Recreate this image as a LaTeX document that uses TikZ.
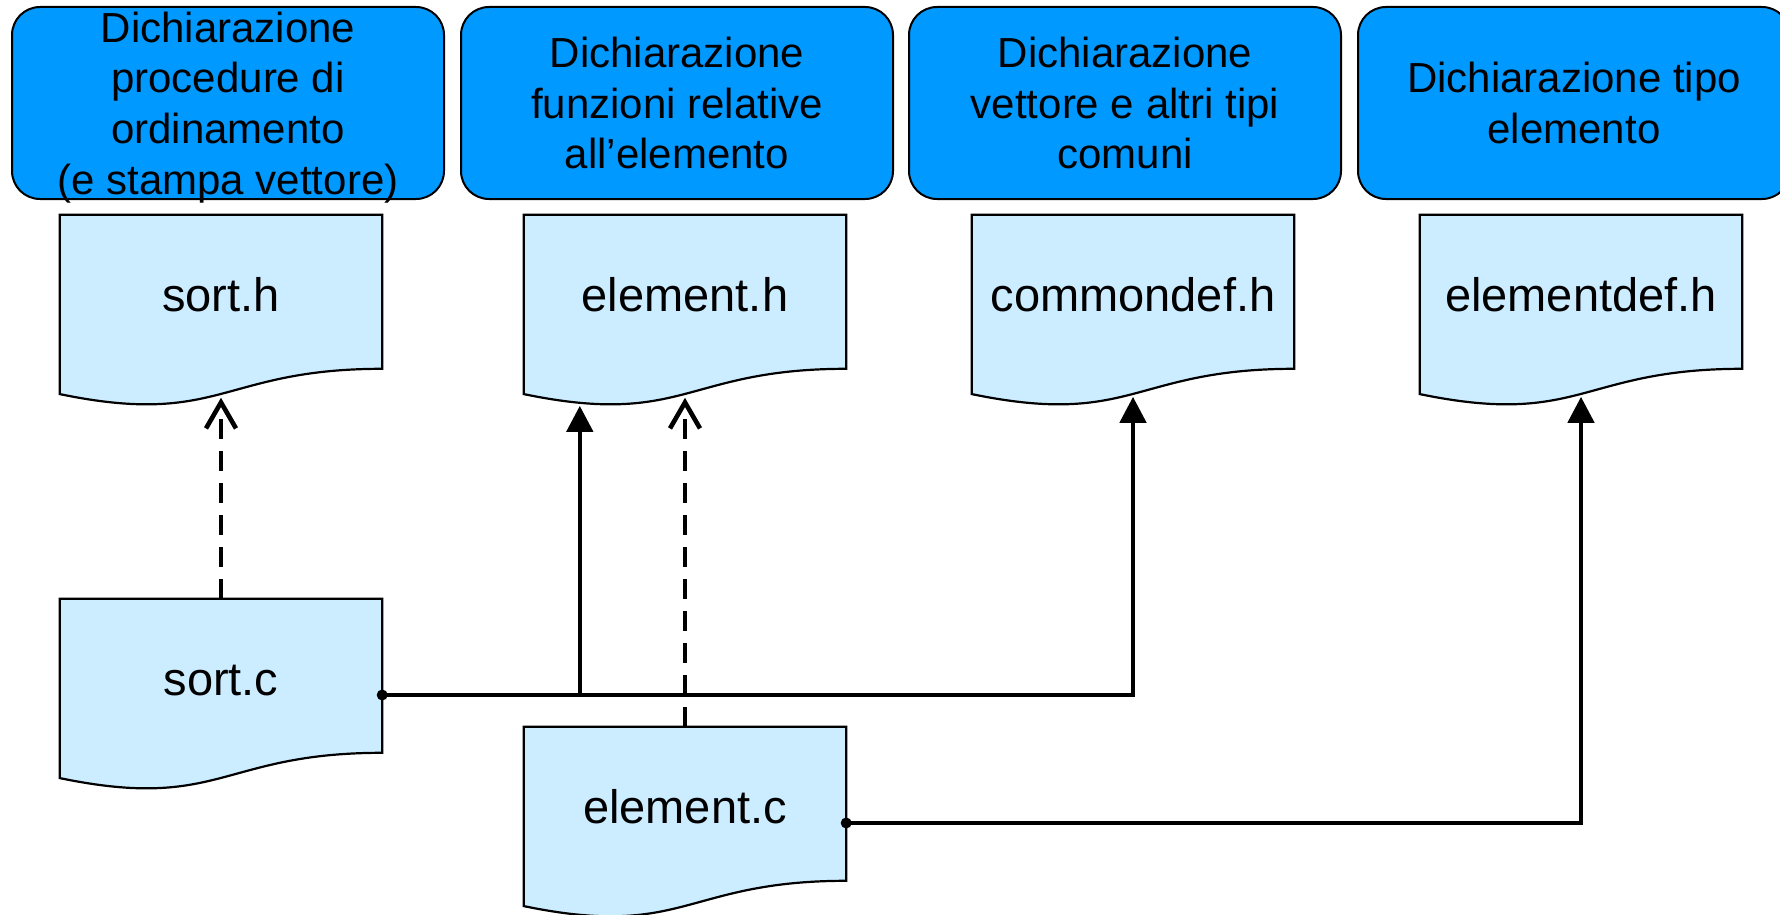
\documentclass[tikz,border=0pt]{standalone}
\usepackage{fontspec}
\setmainfont{Liberation Sans}
\usetikzlibrary{arrows.meta,calc,backgrounds}
\definecolor{topblue}{RGB}{0,153,255}
\definecolor{docblue}{RGB}{204,236,255}
\begin{document}
\begin{tikzpicture}[x=1pt,y=-1pt,
  topbox/.style={draw=black, line width=2pt, fill=topblue, rounded corners=28pt,
    minimum width=432pt, minimum height=192pt, inner sep=0pt, align=center,
    font=\fontsize{42}{50.7}\selectfont, text depth=0pt},
  docnode/.style={minimum width=322pt, minimum height=192pt, inner sep=0pt,
    font=\fontsize{47}{56}\selectfont, text height=34pt, text depth=34pt},
  docline/.style={draw=black, line width=2.2pt, fill=docblue},
  conn/.style={line width=4.6pt},
  solidarrow/.style={conn, -{Triangle[width=26pt,length=26pt]}},
  dasharrow/.style={conn, dash pattern=on 20pt off 12pt, -{Straight Barb[width=30pt,length=26pt]}},
]
\useasboundingbox (0,0) rectangle (1780,915);

% top description boxes
\node[topbox] (t1) at (228,103) {Dichiarazione\\procedure di\\ordinamento\\(e stampa vettore)};
\node[topbox] (t2) at (677,103) {Dichiarazione\\funzioni relative\\all’elemento};
\node[topbox] (t3) at (1125,103) {Dichiarazione\\vettore e altri tipi\\comuni};
\node[topbox] (t4) at (1574,103) {Dichiarazione tipo\\elemento};

% document nodes
\node[docnode] (sorth) at (221,311) {sort.h};
\node[docnode] (elemh) at (685,311) {element.h};
\node[docnode] (commh) at (1133,311) {commondef.h};
\node[docnode] (edefh) at (1581,311) {elementdef.h};
\node[docnode] (sortc) at (221,695) {sort.c};
\node[docnode] (elemc) at (685,823) {element.c};

\begin{scope}[on background layer]
\foreach \n in {sorth,elemh,commh,edefh,sortc,elemc}{
  \path[docline] (\n.north west) -- (\n.north east) -- ($(\n.north east)+(0,154)$)
    .. controls ($(\n.north)+(0,154)$) and ($(\n.north)+(0,212.6)$) .. ($(\n.north west)+(0,179.3)$) -- cycle;
}
\end{scope}

% arrow targets on the wavy bottoms
\coordinate (sorth-in) at ($(sorth.north)+(0,183)$);
\coordinate (elemh-in) at ($(elemh.north)+(0,183)$);
\coordinate (elemh-in2) at ($(elemh.north west)+(56,191)$);
\coordinate (commh-in) at ($(commh.north)+(0,182)$);
\coordinate (edefh-in) at ($(edefh.north)+(0,182)$);

% connectors
\draw[dasharrow] (sortc.north) -- (sorth-in);
\draw[dasharrow] (elemc.north) -- (elemh-in);
\draw[solidarrow] (sortc.east) -| (commh-in);
\draw[solidarrow] (sortc.east -| elemh-in2) -- (elemh-in2);
\draw[solidarrow] (elemc.east) -| (edefh-in);
\fill (sortc.east) circle (5.5pt);
\fill (elemc.east) circle (5.5pt);
\end{tikzpicture}
\end{document}
